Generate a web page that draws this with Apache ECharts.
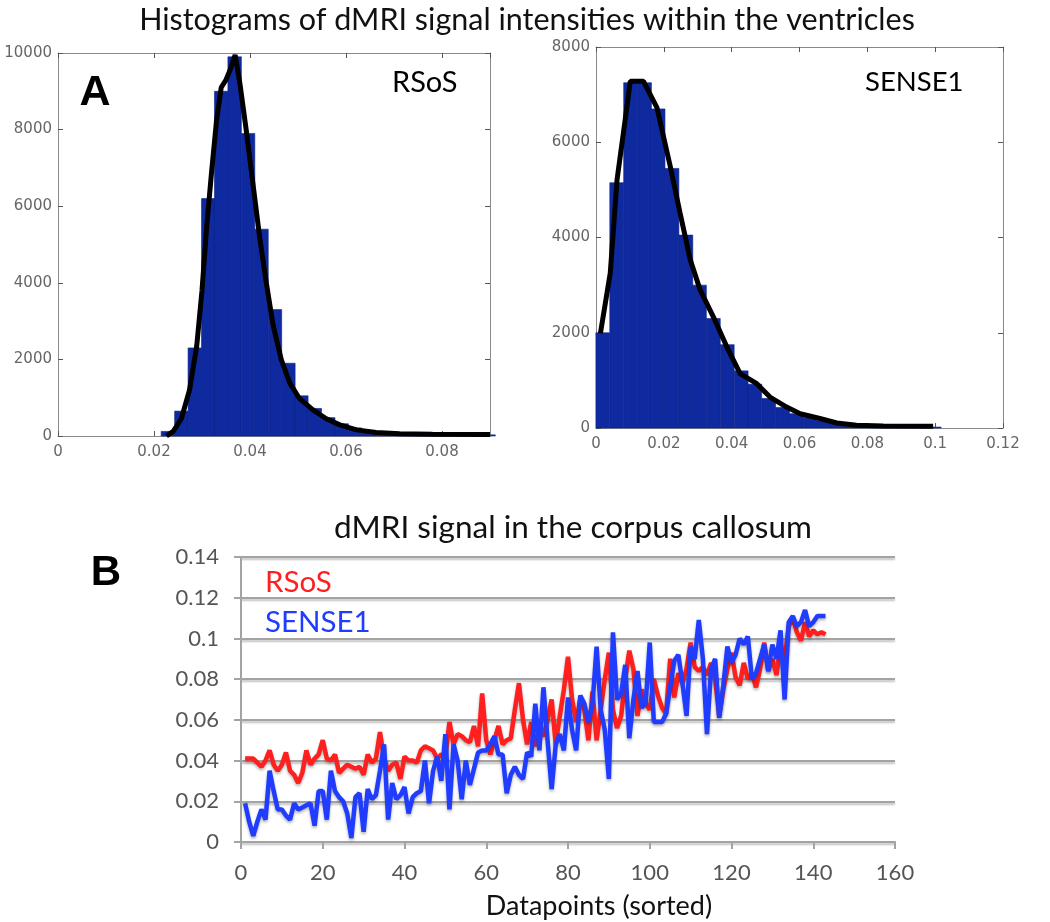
<!DOCTYPE html>
<html><head><meta charset="utf-8">
<script src="https://cdn.jsdelivr.net/npm/echarts/dist/echarts.min.js"></script>
<style>html,body{margin:0;padding:0;background:#fff}#c{width:1050px;height:922px}</style>
</head><body><div id="c"></div><script>
// ---------- Panel A: RSoS histogram ----------
const histA_binWidth = 0.0028;
const histA_centers = [0.0229,0.0257,0.0285,0.0313,0.0340,0.0368,0.0396,0.0424,0.0452,0.0480,0.0507,0.0535,0.0563,0.0591,0.0619,0.0647,0.0674,0.0702,0.0730,0.0758,0.0786,0.0813,0.0841,0.0869,0.0897];
const histA_counts  = [120,650,2300,6200,9000,9900,7900,5400,3300,1900,1050,720,480,320,210,140,100,75,60,50,45,40,35,35,30];
const curveA_x = [0.0226,0.0240,0.0257,0.0274,0.0289,0.0300,0.0310,0.0320,0.0330,0.0340,0.0350,0.0360,0.0369,0.0379,0.0392,0.0407,0.0420,0.0434,0.0448,0.0465,0.0483,0.0503,0.0531,0.0559,0.0587,0.0622,0.0663,0.0712,0.0780,0.0900];
const curveA_y = [0,120,450,1200,2350,3800,5500,6900,8200,9100,9300,9600,9950,9200,8000,6500,5200,4000,2900,2000,1380,980,680,450,290,160,90,60,45,40];

// ---------- Panel A: SENSE1 histogram ----------
const histB_binWidth = 0.00407;
const histB_centers = [0.0020,0.0061,0.0102,0.0143,0.0183,0.0224,0.0265,0.0305,0.0346,0.0387,0.0428,0.0468,0.0509,0.0550,0.0590,0.0631,0.0672,0.0712,0.0753,0.0794,0.0835,0.0875,0.0916,0.0957,0.0997];
const histB_counts  = [2000,5150,7250,7250,6700,5450,4050,3000,2300,1750,1200,920,620,430,300,220,150,100,60,40,30,25,20,15,20];
const curveB_x = [0.0013,0.0042,0.0062,0.0086,0.0101,0.0140,0.0180,0.0199,0.0219,0.0248,0.0278,0.0307,0.0346,0.0386,0.0425,0.0474,0.0513,0.0562,0.0602,0.0660,0.0710,0.0768,0.0847,0.0994];
const curveB_y = [1985,3250,5210,6470,7280,7280,6720,6120,5490,4510,3530,2900,2335,1700,1143,930,650,440,300,200,105,56,42,35];

// ---------- Panel B: corpus callosum ----------
const rsos = [0.041,0.041,0.041,0.039,0.037,0.040,0.045,0.038,0.035,0.038,
 0.044,0.035,0.033,0.029,0.034,0.045,0.038,0.041,0.043,0.050,
 0.041,0.040,0.043,0.034,0.036,0.038,0.037,0.036,0.037,0.033,
 0.043,0.039,0.041,0.054,0.041,0.035,0.038,0.039,0.031,0.042,
 0.040,0.040,0.039,0.045,0.047,0.046,0.045,0.041,0.043,0.042,
 0.059,0.048,0.053,0.052,0.050,0.049,0.057,0.047,0.073,0.050,
 0.043,0.050,0.057,0.048,0.050,0.051,0.065,0.078,0.060,0.048,
 0.059,0.047,0.055,0.052,0.060,0.070,0.048,0.062,0.075,0.091,
 0.070,0.059,0.070,0.065,0.050,0.074,0.050,0.065,0.080,0.093,
 0.065,0.056,0.062,0.080,0.094,0.085,0.062,0.075,0.068,0.065,
 0.080,0.072,0.066,0.063,0.090,0.071,0.083,0.078,0.085,0.098,
 0.086,0.084,0.086,0.082,0.088,0.080,0.062,0.075,0.085,0.093,
 0.081,0.077,0.088,0.080,0.083,0.076,0.085,0.098,0.084,0.090,
 0.082,0.096,0.090,0.106,0.110,0.103,0.099,0.108,0.101,0.104,
 0.102,0.103,0.102];
const sense1 = [0.019,0.010,0.003,0.010,0.016,0.011,0.035,0.025,0.016,0.016,
 0.013,0.011,0.019,0.016,0.017,0.018,0.019,0.008,0.025,0.025,
 0.011,0.035,0.025,0.022,0.020,0.014,0.002,0.022,0.024,0.005,
 0.026,0.021,0.023,0.035,0.048,0.011,0.029,0.021,0.023,0.027,
 0.014,0.022,0.024,0.025,0.040,0.019,0.035,0.042,0.030,0.053,
 0.016,0.048,0.040,0.021,0.040,0.028,0.036,0.044,0.045,0.045,
 0.048,0.052,0.043,0.043,0.024,0.033,0.037,0.033,0.031,0.044,
 0.042,0.068,0.045,0.076,0.050,0.026,0.048,0.053,0.045,0.071,
 0.055,0.045,0.072,0.068,0.059,0.068,0.096,0.065,0.055,0.031,
 0.103,0.070,0.073,0.087,0.051,0.070,0.084,0.066,0.068,0.098,
 0.059,0.059,0.059,0.063,0.076,0.089,0.092,0.078,0.062,0.096,
 0.090,0.109,0.090,0.053,0.085,0.090,0.061,0.077,0.096,0.088,
 0.092,0.100,0.097,0.101,0.080,0.083,0.090,0.097,0.084,0.097,
 0.090,0.104,0.070,0.108,0.111,0.106,0.108,0.114,0.106,0.108,
 0.111,0.111,0.111];

const TITLE_FONT = 'Lato, "Open Sans", sans-serif';
const HIST_LABEL = {color:'#666', fontFamily:'"DejaVu Sans", sans-serif', fontSize:15, formatter: v => String(v)};

function histAxisX(gridIndex, max, position, showLabel){
  return {type:'value', gridIndex, min:0, max, interval:0.02, position,
    axisLine:{show:true, onZero:false, lineStyle:{color:'#8a8a8a', width:1}},
    axisTick:{show:true, inside:true, length:5, lineStyle:{color:'#555'}},
    splitLine:{show:false},
    axisLabel: showLabel ? Object.assign({margin:9, showMaxLabel: max===0.12}, HIST_LABEL) : {show:false}};
}
function histAxisY(gridIndex, max, position, showLabel){
  return {type:'value', gridIndex, min:0, max, interval:2000, position,
    axisLine:{show:true, onZero:false, lineStyle:{color:'#8a8a8a', width:1}},
    axisTick:{show:true, inside:true, length:5, lineStyle:{color:'#555'}},
    splitLine:{show:false},
    axisLabel: showLabel ? Object.assign({margin:6}, HIST_LABEL) : {show:false}};
}
function histRender(fill){
  return function(params, api){
    const c = api.value(0), h = api.value(1), w = api.value(2);
    const p0 = api.coord([c - w/2, h]);
    const p1 = api.coord([c + w/2, 0]);
    return {type:'rect', shape:{x:p0[0], y:p0[1], width:p1[0]-p0[0], height:p1[1]-p0[1]},
      style:{fill:fill, stroke:'#0b2288', lineWidth:0.6}};
  };
}

const gridLine = {color:'#a3a3a3', width:2, shadowColor:'rgba(0,0,0,0.25)', shadowBlur:2, shadowOffsetY:2};

const option = {
  backgroundColor:'#fff',
  animation:false,
  grid:[
    {left:58, top:53, width:432, height:383},
    {left:596, top:47, width:407, height:381},
    {left:241, top:557, width:654, height:285}
  ],
  xAxis:[
    histAxisX(0, 0.09, 'bottom', true),
    histAxisX(0, 0.09, 'top', false),
    histAxisX(1, 0.12, 'bottom', true),
    histAxisX(1, 0.12, 'top', false),
    {type:'value', gridIndex:2, min:0, max:160, interval:20, position:'bottom',
      axisLine:{show:true, onZero:false, lineStyle:{color:'#a3a3a3', width:2}},
      axisTick:{show:true, inside:false, length:7, lineStyle:{color:'#a3a3a3', width:2}},
      splitLine:{show:false},
      axisLabel:{color:'#555', fontFamily:TITLE_FONT, fontSize:22, margin:20}}
  ],
  yAxis:[
    histAxisY(0, 10000, 'left', true),
    histAxisY(0, 10000, 'right', false),
    histAxisY(1, 8000, 'left', true),
    histAxisY(1, 8000, 'right', false),
    {type:'value', gridIndex:2, min:0, max:0.14, interval:0.02, position:'left',
      axisLine:{show:true, onZero:false, lineStyle:{color:'#a3a3a3', width:2}},
      axisTick:{show:true, inside:false, length:7, lineStyle:{color:'#a3a3a3', width:2}},
      splitLine:{show:true, lineStyle:gridLine},
      axisLabel:{color:'#555', fontFamily:TITLE_FONT, fontSize:22, margin:22, formatter: v => String(v)}}
  ],
  series:[
    {type:'custom', name:'RSoS histogram', xAxisIndex:0, yAxisIndex:0, renderItem:histRender('#0f2a9e'),
      encode:{x:0, y:1}, data: histA_centers.map((c,i)=>[c, histA_counts[i], histA_binWidth]), z:2},
    {type:'line', name:'RSoS fit', xAxisIndex:0, yAxisIndex:0, symbol:'none', z:3,
      lineStyle:{color:'#000', width:5}, data: curveA_x.map((x,i)=>[x, curveA_y[i]])},
    {type:'custom', name:'SENSE1 histogram', xAxisIndex:2, yAxisIndex:2, renderItem:histRender('#0f2a9e'),
      encode:{x:0, y:1}, data: histB_centers.map((c,i)=>[c, histB_counts[i], histB_binWidth]), z:2},
    {type:'line', name:'SENSE1 fit', xAxisIndex:2, yAxisIndex:2, symbol:'none', z:3,
      lineStyle:{color:'#000', width:5}, data: curveB_x.map((x,i)=>[x, curveB_y[i]])},
    {type:'line', name:'RSoS', xAxisIndex:4, yAxisIndex:4, symbol:'none', z:3,
      lineStyle:{color:'#ff1f1f', width:4.5, shadowColor:'rgba(0,0,0,0.3)', shadowBlur:3, shadowOffsetY:2},
      data: rsos.map((v,i)=>[i+1, v])},
    {type:'line', name:'SENSE1', xAxisIndex:4, yAxisIndex:4, symbol:'none', z:4,
      lineStyle:{color:'#1f3cff', width:4.5, shadowColor:'rgba(0,0,0,0.3)', shadowBlur:3, shadowOffsetY:2},
      data: sense1.map((v,i)=>[i+1, v])}
  ],
  graphic:[
    {type:'text', x:527, y:20, style:{text:'Histograms of dMRI signal intensities within the ventricles', font:'30.5px '+TITLE_FONT, fill:'#111', align:'center', verticalAlign:'middle'}},
    {type:'text', x:95, y:93, style:{text:'A', font:'bold 43px "Liberation Sans", Arial, sans-serif', fill:'#000', align:'center', verticalAlign:'middle'}},
    {type:'text', x:392, y:83, style:{text:'RSoS', font:'29px '+TITLE_FONT, fill:'#000', align:'left', verticalAlign:'middle'}},
    {type:'text', x:865, y:82, style:{text:'SENSE1', font:'27.5px '+TITLE_FONT, fill:'#000', align:'left', verticalAlign:'middle'}},
    {type:'text', x:573, y:528, style:{text:'dMRI signal in the corpus callosum', font:'31.5px '+TITLE_FONT, fill:'#111', align:'center', verticalAlign:'middle'}},
    {type:'text', x:106, y:573, style:{text:'B', font:'bold 42px "Liberation Sans", Arial, sans-serif', fill:'#000', align:'center', verticalAlign:'middle'}},
    {type:'text', x:265, y:582, style:{text:'RSoS', font:'29.5px '+TITLE_FONT, fill:'#ff1f1f', align:'left', verticalAlign:'middle'}},
    {type:'text', x:265, y:622, style:{text:'SENSE1', font:'29.5px '+TITLE_FONT, fill:'#1f3cff', align:'left', verticalAlign:'middle'}},
    {type:'text', x:599, y:906, style:{text:'Datapoints (sorted)', font:'27px '+TITLE_FONT, fill:'#111', align:'center', verticalAlign:'middle'}}
  ]
};
const chart = echarts.init(document.getElementById('c'), null, {renderer:'canvas'});
chart.setOption(option);
</script></body></html>
